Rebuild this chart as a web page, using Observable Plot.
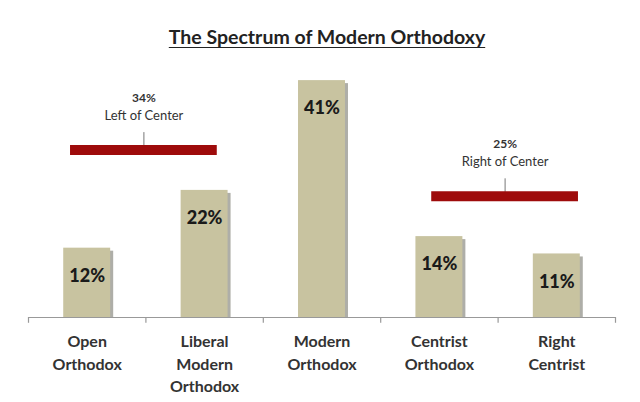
<!DOCTYPE html>
<html>
<head>
<meta charset="utf-8">
<script src="https://cdn.jsdelivr.net/npm/d3@7"></script>
<script src="https://cdn.jsdelivr.net/npm/@observablehq/plot@0.6"></script>
<style>
  body { margin: 0; background: #fff; font-family: Lato, "Open Sans", sans-serif; }
  #title { height: 56px; box-sizing: border-box; padding-top: 27px; padding-left: 14px; line-height: 20px; text-align: center;
           font-size: 19.5px; font-weight: bold; color: #222; text-decoration: underline; text-underline-offset: 3px; }
  #chart svg { display: block; }
</style>
</head>
<body>
<div id="title">The Spectrum of Modern Orthodoxy</div>
<div id="chart"></div>
<script>
// ---- data ----
const categories = ["Open\nOrthodox", "Liberal\nModern\nOrthodox", "Modern\nOrthodox", "Centrist\nOrthodox", "Right\nCentrist"];
const shares = [12, 22, 41, 14, 11];
const groupNames = ["Left of Center", "Right of Center"];
const groupShares = [34, 25];
const groupFirst = [0, 3];   // index of first category in the group
const groupLast = [1, 4];    // index of last category in the group

// ---- derived tables ----
const bars = categories.map((c, i) => ({i, label: c, value: shares[i]}));
const boundaries = d3.range(-0.5, categories.length, 1);
const groups = groupNames.map((g, k) => {
  const vals = shares.slice(groupFirst[k], groupLast[k] + 1);
  return {name: g, share: groupShares[k], first: groupFirst[k], last: groupLast[k],
          mid: (groupFirst[k] + groupLast[k]) / 2, level: d3.max(vals) + 7};
});
const groupShift = [-2, 7]; // pixel nudges for annotation placement
const half = 0.625;

const annotationMarks = groups.flatMap((g, k) => {
  const d = [g];
  return [
    Plot.ruleX(d, {x: "mid", y1: "level", y2: (x) => x.level + 3, stroke: "#777", strokeWidth: 1, dx: groupShift[k]}),
    Plot.ruleY(d, {y: "level", x1: (x) => x.mid - half, x2: (x) => x.mid + half, stroke: "#9e0b0b", strokeWidth: 10, dx: groupShift[k]}),
    Plot.text(d, {x: "mid", y: "level", text: (x) => x.share + "%", dy: -52, dx: groupShift[k], fontSize: 12, fontWeight: "bold", fill: "#333"}),
    Plot.text(d, {x: "mid", y: "level", text: "name", dy: -34, dx: groupShift[k], fontSize: 13, fill: "#333"})
  ];
});

const chart = Plot.plot({
  width: 640,
  height: 346,
  marginTop: 1,
  marginBottom: 85,
  marginLeft: 28,
  marginRight: 25,
  style: {fontFamily: "Lato, 'Open Sans', sans-serif", background: "#fff"},
  x: {type: "linear", domain: [-0.5, categories.length - 0.5], axis: null},
  y: {domain: [0, 45], axis: null},
  marks: [
    // bar shadow
    Plot.rect(bars, {x1: (d) => d.i - 0.2, x2: (d) => d.i + 0.2, y1: 0, y2: "value", dx: 3, insetTop: 3, fill: "#aeaea8"}),
    Plot.rect(bars, {x1: (d) => d.i - 0.2, x2: (d) => d.i + 0.2, y1: 0, y2: "value", fill: "#c8c3a0"}),
    Plot.text(bars, {x: "i", y: "value", text: (d) => d.value + "%", dy: 28, fontSize: 18, fontWeight: 900, fill: "#1a1a1a"}),
    Plot.ruleY([0], {stroke: "#999", strokeWidth: 1.2}),
    Plot.ruleX(boundaries, {y1: 0, y2: -1, stroke: "#999", strokeWidth: 1.2}),
    Plot.text(bars, {x: "i", y: 0, text: "label", lineAnchor: "top", dy: 14, lineHeight: 1.4, fontSize: 16, fontWeight: "bold", fill: "#333"}),
    ...annotationMarks
  ]
});
document.getElementById("chart").appendChild(chart);
</script>
</body>
</html>
